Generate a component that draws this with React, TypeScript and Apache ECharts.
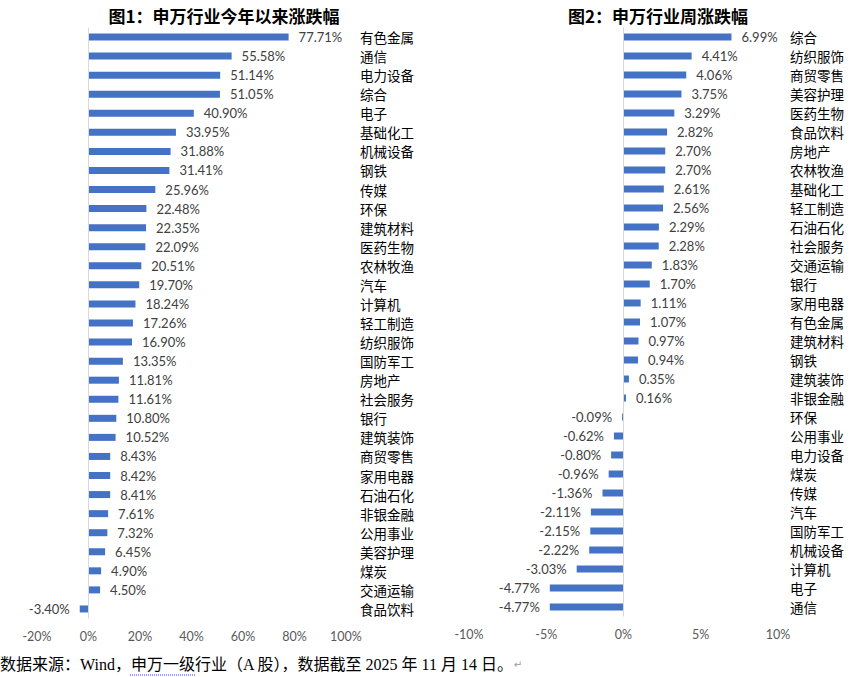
import React, { useEffect, useRef } from "react";
import * as echarts from "echarts";

const leftTitle = "图1：申万行业今年以来涨跌幅";
const rightTitle = "图2：申万行业周涨跌幅";

const leftCategories = ["有色金属", "通信", "电力设备", "综合", "电子", "基础化工", "机械设备", "钢铁", "传媒", "环保", "建筑材料", "医药生物", "农林牧渔", "汽车", "计算机", "轻工制造", "纺织服饰", "国防军工", "房地产", "社会服务", "银行", "建筑装饰", "商贸零售", "家用电器", "石油石化", "非银金融", "公用事业", "美容护理", "煤炭", "交通运输", "食品饮料"];
const leftValues = [77.71, 55.58, 51.14, 51.05, 40.9, 33.95, 31.88, 31.41, 25.96, 22.48, 22.35, 22.09, 20.51, 19.7, 18.24, 17.26, 16.9, 13.35, 11.81, 11.61, 10.8, 10.52, 8.43, 8.42, 8.41, 7.61, 7.32, 6.45, 4.9, 4.5, -3.4];

const rightCategories = ["综合", "纺织服饰", "商贸零售", "美容护理", "医药生物", "食品饮料", "房地产", "农林牧渔", "基础化工", "轻工制造", "石油石化", "社会服务", "交通运输", "银行", "家用电器", "有色金属", "建筑材料", "钢铁", "建筑装饰", "非银金融", "环保", "公用事业", "电力设备", "煤炭", "传媒", "汽车", "国防军工", "机械设备", "计算机", "电子", "通信"];
const rightValues = [6.99, 4.41, 4.06, 3.75, 3.29, 2.82, 2.7, 2.7, 2.61, 2.56, 2.29, 2.28, 1.83, 1.7, 1.11, 1.07, 0.97, 0.94, 0.35, 0.16, -0.09, -0.62, -0.8, -0.96, -1.36, -2.11, -2.15, -2.22, -3.03, -4.77, -4.77];

const footnote = "数据来源：Wind，申万一级行业（A 股），数据截至 2025 年 11 月 14 日。";

const NUM_FONT = 'Lato, "Noto Sans CJK SC", sans-serif';
const CJK_FONT = '"Noto Sans CJK SC", sans-serif';
const BAR = "#4472C4";

function barData(values: number[]) {
  return values.map((v) => ({
    value: v,
    label: { position: v < 0 ? "left" : "right" },
  }));
}

export default function App() {
  const ref = useRef<HTMLDivElement>(null);
  useEffect(() => {
    document.body.style.margin = "0";
    if (!ref.current) return;
    const chart = echarts.init(ref.current, null, { renderer: "svg" });
    const xAxisCommon = {
      type: "value",
      axisLine: { show: false },
      axisTick: { show: false },
      splitLine: { show: false },
      axisLabel: { formatter: "{value}%", color: "#595959", fontSize: 12.5, fontFamily: NUM_FONT, margin: 12 },
    };
    const yAxisCommon = {
      type: "category",
      inverse: true,
      position: "right",
      axisLine: { show: false },
      axisTick: { show: false },
      splitLine: { show: false },
    };
    const seriesCommon = {
      type: "bar",
      barWidth: 7,
      itemStyle: { color: BAR },
      label: {
        show: true,
        distance: 10,
        color: "#404040",
        fontSize: 13,
        fontFamily: NUM_FONT,
        formatter: (p: any) => p.value.toFixed(2) + "%",
      },
      markLine: {
        silent: true,
        symbol: "none",
        label: { show: false },
        lineStyle: { color: "#d9d9d9", type: "solid", width: 1 },
        data: [{ xAxis: 0 }],
      },
    };
    chart.setOption({
      animation: false,
      title: [
        { text: leftTitle, left: 219, top: 2, textAlign: "center", textStyle: { fontSize: 17, fontWeight: "bold", color: "#000", fontFamily: CJK_FONT } },
        { text: rightTitle, left: 653, top: 2, textAlign: "center", textStyle: { fontSize: 17, fontWeight: "bold", color: "#000", fontFamily: CJK_FONT } },
      ],
      grid: [
        { left: 37, width: 309, top: 27.5, height: 591 },
        { left: 469, width: 309, top: 27.5, height: 589 },
      ],
      xAxis: [
        { ...xAxisCommon, gridIndex: 0, min: -20, max: 100, interval: 20 },
        { ...xAxisCommon, gridIndex: 1, min: -10, max: 10, interval: 5 },
      ],
      yAxis: [
        { ...yAxisCommon, gridIndex: 0, data: leftCategories, axisLabel: { margin: 14, color: "#000", fontSize: 13.5, fontFamily: CJK_FONT, align: "left" } },
        { ...yAxisCommon, gridIndex: 1, data: rightCategories, axisLabel: { margin: 12, color: "#000", fontSize: 13.5, fontFamily: CJK_FONT, align: "left" } },
      ],
      series: [
        { ...seriesCommon, xAxisIndex: 0, yAxisIndex: 0, data: barData(leftValues) },
        { ...seriesCommon, xAxisIndex: 1, yAxisIndex: 1, data: barData(rightValues) },
      ],
      graphic: [
        {
          type: "text",
          left: 0,
          top: 656,
          style: {
            text: "{a|" + footnote + "}{b|↵}",
            rich: {
              a: { fontSize: 16, fill: "#000", color: "#000", fontFamily: '"Liberation Serif", "Noto Sans CJK SC", serif' },
              b: { fontSize: 10, fill: "#999", color: "#999", fontFamily: '"DejaVu Sans", sans-serif' },
            },
          },
        },
        {
          type: "line",
          shape: { x1: 130, y1: 675, x2: 195, y2: 675 },
          style: { stroke: "#3b3bff", lineWidth: 1, lineDash: [1, 1] },
        },
      ],
    });
    return () => chart.dispose();
  }, []);
  return <div ref={ref} style={{ width: 864, height: 677 }} />;
}
